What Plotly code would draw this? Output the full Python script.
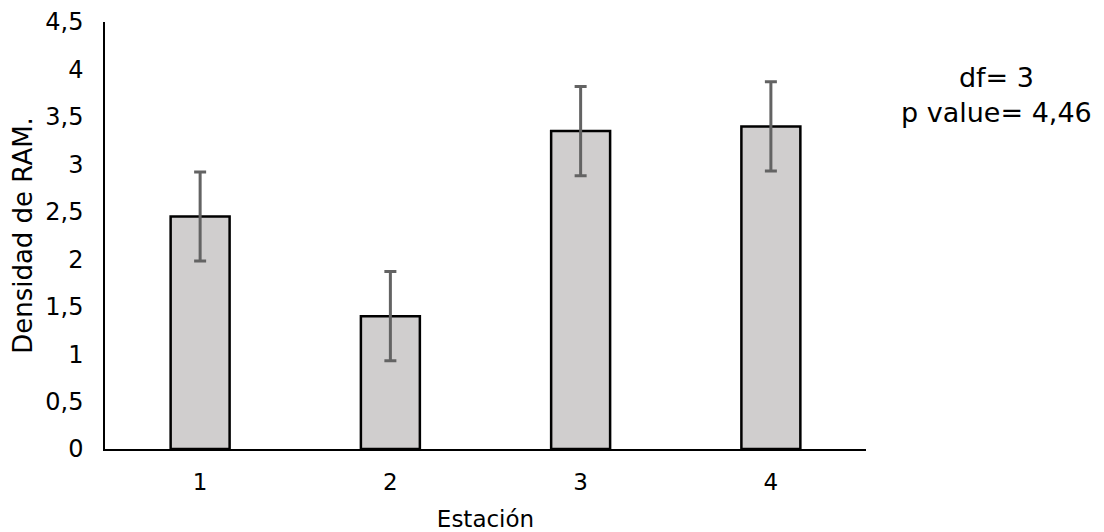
import plotly.graph_objects as go

estaciones = ["1", "2", "3", "4"]
densidad = [2.45, 1.40, 3.35, 3.40]
error = [0.47, 0.47, 0.47, 0.47]
y_ticks = [0, 0.5, 1, 1.5, 2, 2.5, 3, 3.5, 4, 4.5]
y_tick_labels = ["0", "0,5", "1", "1,5", "2", "2,5", "3", "3,5", "4", "4,5"]
stats_text = "df= 3<br>p value= 4,46"

FONT = "DejaVu Sans"

fig = go.Figure(
    go.Bar(
        x=estaciones,
        y=densidad,
        width=0.31,
        marker=dict(color="#D0CECE", line=dict(color="#000000", width=2.5)),
        error_y=dict(type="data", array=error, visible=True,
                     color="#636363", thickness=3, width=6),
    )
)

fig.update_layout(
    width=1104, height=532,
    margin=dict(l=105, r=238, t=22, b=83),
    plot_bgcolor="white", paper_bgcolor="white",
    font=dict(family=FONT, size=23, color="#000000"),
    showlegend=False,
    separators=", ",
    annotations=[
        dict(text=stats_text, xref="paper", yref="paper", x=1.171, y=0.83,
             xanchor="center", yanchor="middle", showarrow=False, align="center",
             font=dict(family=FONT, size=27, color="#000000")),
    ],
)

fig.update_xaxes(
    type="category", showline=True, linecolor="#000000", linewidth=1.5,
    ticks="", showgrid=False, ticklabelstandoff=12, automargin=False,
    title=dict(text="Estación", standoff=25, font=dict(size=23)),
    tickfont=dict(size=23),
)
fig.update_yaxes(
    range=[0, 4.5], tickvals=y_ticks, ticktext=y_tick_labels,
    showline=True, linecolor="#000000", linewidth=1.5,
    ticks="", showgrid=False, zeroline=False, ticklabelstandoff=15,
    automargin=False,
    title=dict(text="Densidad de RAM.", standoff=5, font=dict(size=26)),
    tickfont=dict(size=24),
)

fig.write_html("out.html")
